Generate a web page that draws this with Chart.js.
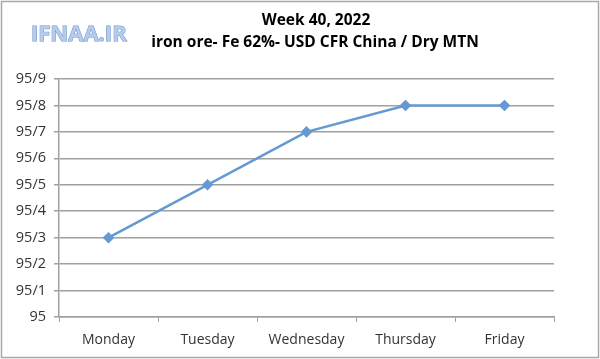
<!DOCTYPE html>
<html>
<head>
<meta charset="utf-8">
<script src="https://cdn.jsdelivr.net/npm/chart.js@4/dist/chart.umd.min.js"></script>
<style>
  body { margin: 0; background: #fff; }
  canvas { display: block; }
</style>
</head>
<body>
<canvas id="lineChart" width="600" height="359"></canvas>
<script>
// Datos
const days = ['Monday', 'Tuesday', 'Wednesday', 'Thursday', 'Friday'];
const prices = [95.3, 95.5, 95.7, 95.8, 95.8];
const titleLines = ['Week 40, 2022', 'iron ore- Fe 62%- USD CFR China / Dry MTN'];
const yMin = 95, yMax = 95.9, yStep = 0.1;

// Marco, logo y titulos dibujados sobre el canvas
const decor = {
    id: 'decor',
    beforeDraw(chart) {
        const ctx = chart.ctx;
        ctx.save();
        ctx.fillStyle = '#fff';
        ctx.fillRect(0, 0, chart.width, chart.height);
        ctx.strokeStyle = '#a8a8a8';
        ctx.lineWidth = 1.5;
        ctx.strokeRect(1.5, 1.5, chart.width - 3, chart.height - 3);
        ctx.restore();
    },
    afterDraw(chart) {
        const ctx = chart.ctx;
        ctx.save();
        // logo
        ctx.font = 'bold 22px "Open Sans"';
        ctx.textBaseline = 'middle';
        ctx.textAlign = 'left';
        ctx.lineWidth = 1;
        ctx.strokeStyle = '#6f92c4';
        ctx.strokeText('IFNAA.IR', 31, 35);
        ctx.fillStyle = '#b3cbec';
        ctx.fillText('IFNAA.IR', 31, 35);
        // titulos
        ctx.fillStyle = '#000';
        ctx.textAlign = 'center';
        ctx.font = 'bold 15.5px "Open Sans"';
        ctx.fillText(titleLines[0], 316, 21);
        ctx.fillText(titleLines[1], 315, 43);
        ctx.restore();
    }
};

const chart = new Chart(document.getElementById('lineChart'), {
    type: 'line',
    data: {
        labels: days,
        datasets: [{
            data: prices,
            borderColor: '#6499d1',
            backgroundColor: '#6499d1',
            borderWidth: 2.5,
            pointStyle: 'rectRot',
            pointRadius: 4,
            pointHoverRadius: 4,
            tension: 0
        }]
    },
    options: {
        responsive: false,
        animation: false,
        layout: { padding: { top: 79, right: 46, bottom: 0, left: 0 } },
        plugins: {
            legend: { display: false },
            title: { display: false },
            tooltip: { enabled: false }
        },
        scales: {
            x: {
                offset: true,
                grid: {
                    offset: true,
                    drawOnChartArea: false,
                    drawTicks: true,
                    tickLength: 5,
                    color: '#a0a0a0'
                },
                border: { color: '#a0a0a0', width: 1.5 },
                ticks: {
                    color: '#333',
                    font: { family: 'Open Sans', size: 14 },
                    padding: 10,
                    maxRotation: 0
                },
                afterFit(scale) { scale.height = 42; }
            },
            y: {
                min: yMin,
                max: yMax,
                grid: {
                    color: '#a0a0a0',
                    lineWidth: 1.5,
                    tickLength: 5
                },
                border: { color: '#a0a0a0', width: 1.5 },
                ticks: {
                    stepSize: yStep,
                    color: '#333',
                    font: { family: 'Open Sans', size: 14.5 },
                    padding: 8,
                    callback: function(v) {
                        const s = Number(v).toFixed(1);
                        return s.endsWith('.0') ? s.slice(0, -2) : s.replace('.', '/');
                    }
                },
                afterFit(scale) { scale.width = 59; }
            }
        }
    },
    plugins: [decor]
});
</script>
</body>
</html>
